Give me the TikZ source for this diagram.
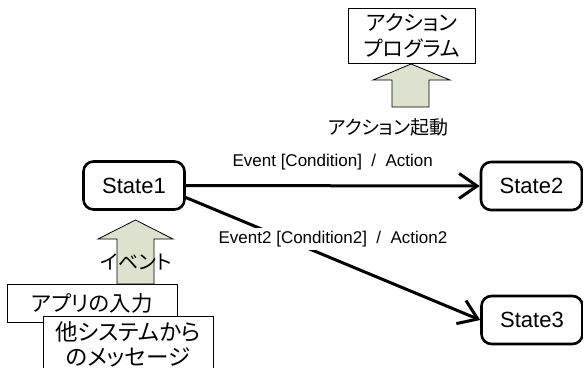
\documentclass[tikz,border=0pt]{standalone}
\usepackage{fontspec}
\setmainfont{Liberation Sans}
\newfontfamily\jp[RawFeature=+palt]{Noto Sans CJK JP}
\usetikzlibrary{arrows.meta}
\definecolor{arrowc}{RGB}{221,226,206}
\begin{document}
\begin{tikzpicture}[x=1pt,y=-1pt,
  state/.style={draw, line width=2.6pt, rounded corners=10pt, minimum width=101pt, minimum height=48pt, inner sep=0pt, font=\fontsize{22}{26}\selectfont},
  jbox/.style={draw, line width=0.9pt, fill=white, inner sep=0pt, align=center, font=\jp\fontsize{21.5}{25}\selectfont},
  jlabel/.style={inner sep=0pt, font=\jp\fontsize{19}{23}\selectfont},
  edge/.style={line width=3pt, -{Straight Barb[length=18pt,width=25pt,line width=3pt]}},
  elabel/.style={font=\fontsize{17}{20}\selectfont, inner sep=3pt},
  blockarrow/.style={draw=black, line width=0.8pt, fill=arrowc}]
\useasboundingbox (0,0) rectangle (583,367);
% top action box and arrow
\draw[blockarrow] (392,107) -- (392,80) -- (373,80) -- (411,64) -- (450,80) -- (429,80) -- (429,107) -- cycle;
\node[jbox, minimum width=127pt, minimum height=55pt, font=\jp\fontsize{21}{26}\selectfont] (prog) at (412,36) {アクション\\プログラム};
\node[jlabel] (start) at (388,127) {アクション起動};
% states
\node[state] (S1) at (134,185.5) {State1};
\node[state] (S2) at (531.5,186) {State2};
\node[state] (S3) at (532,320) {State3};
% transitions
\draw[edge] (S1.east) -- (S2.west) node[midway, above=11pt, elabel] (l1) {Event [Condition]\ \ /\ \ Action};
\draw[edge] ([yshift=-12pt]S1.east) -- (S3.west) node[midway, yshift=20pt, fill=white, elabel] (l2) {Event2 [Condition2]\ \ /\ \ Action2};
% event arrow
\draw[blockarrow] (117,284) -- (117,239) -- (98,239) -- (135.5,220) -- (173,239) -- (154,239) -- (154,284) -- cycle;
\node[jlabel, font=\jp\fontsize{20}{22}\selectfont] (ev) at (136,262) {イベント};
\node[jbox, minimum width=170pt, minimum height=38pt] (app) at (92,303) {アプリの入力};
\node[jbox, minimum width=170pt, minimum height=56pt, font=\jp\fontsize{22.5}{25}\selectfont] (msg) at (128,344) {他システムから\\のメッセージ};
\end{tikzpicture}
\end{document}
